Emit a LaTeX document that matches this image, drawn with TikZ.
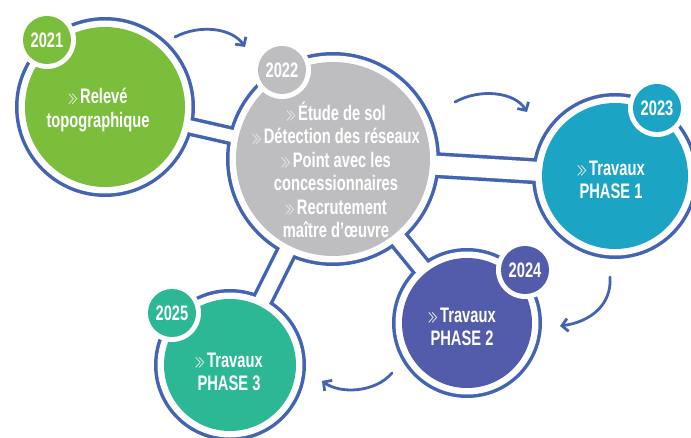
\documentclass[tikz,border=0pt]{standalone}
\usepackage{fontspec}
\setmainfont{Liberation Sans}[FakeStretch=0.7]
\usetikzlibrary{arrows.meta}
\definecolor{ringblue}{RGB}{66,100,178}
\definecolor{stagegreen}{RGB}{122,190,60}
\definecolor{stagegray}{RGB}{190,190,193}
\definecolor{stageteal}{RGB}{28,164,196}
\definecolor{stagepurple}{RGB}{82,92,170}
\definecolor{stagemint}{RGB}{44,184,148}

% small double chevron in front of each item
\newcommand{\chev}{\tikz[baseline=0pt, x=1pt, y=1pt]{
  \draw[white!80!gray, line width=0.8pt, line join=miter]
    (0,0) -- (4.5,5) -- (0,10) (3.5,0) -- (8,5) -- (3.5,10);}\hspace{3pt}}

\tikzset{
  stage/.style={circle, inner sep=0pt, minimum size=#1},
  yearbadge/.style={circle, inner sep=0pt, minimum size=48pt, text=white,
    font=\bfseries\fontsize{21}{22}\selectfont},
  stagetext/.style={text=white, align=center, inner sep=0pt,
    font=\bfseries\fontsize{21}{23.5}\selectfont},
  flow/.style={ringblue, line width=2.8pt, line cap=round,
    -{Straight Barb[length=6pt, width=13pt, line width=2.8pt]}},
}

\begin{document}
\begin{tikzpicture}[x=1pt, y=-1pt]
  \useasboundingbox (0,0) rectangle (691,438);
  % circle centres
  \coordinate (c21) at (105,107);
  \coordinate (c22) at (333,159);
  \coordinate (c23) at (615,176);
  \coordinate (c24) at (467,323);
  \coordinate (c25) at (230,365);

  % blue outlines (rings and bands)
  \begin{scope}[ringblue]
    \draw[line width=19pt] (c21) -- (c22);
    \draw[line width=26pt] (c22) -- (c23);
    \draw[line width=22pt] (c22) -- (c24);
    \draw[line width=22pt] (c22) -- (c25);
    \fill (c21) circle (90pt);
    \fill (c22) circle (107pt);
    \fill (c23) circle (83pt);
    \fill (c24) circle (75pt);
    \fill (c25) circle (76pt);
  \end{scope}
  % white gaps
  \begin{scope}[white]
    \draw[line width=12pt] (c21) -- (c22);
    \draw[line width=19pt] (c22) -- (c23);
    \draw[line width=15pt] (c22) -- (c24);
    \draw[line width=15pt] (c22) -- (c25);
    \fill (c21) circle (86.5pt);
    \fill (c22) circle (103.5pt);
    \fill (c23) circle (79.5pt);
    \fill (c24) circle (71.5pt);
    \fill (c25) circle (72.5pt);
  \end{scope}

  % stage discs
  \node[stage=160pt, fill=stagegreen] (s21) at (c21) {};
  \node[stage=194pt, fill=stagegray] (s22) at (c22) {};
  \node[stage=146pt, fill=stageteal] (s23) at (c23) {};
  \node[stage=130pt, fill=stagepurple] (s24) at (c24) {};
  \node[stage=132pt, fill=stagemint] (s25) at (c25) {};

  % year badges
  \node[stage=58pt, fill=white] (h21) at (47,40) {};
  \node[yearbadge, fill=stagegreen] (y21) at (h21) {2021};
  \node[stage=58pt, fill=white] (h22) at (282,70) {};
  \node[yearbadge, fill=stagegray] (y22) at (h22) {2022};
  \node[stage=58pt, fill=white] (h23) at (657,108) {};
  \node[yearbadge, fill=stageteal] (y23) at (h23) {2023};
  \node[stage=58pt, fill=white] (h24) at (525,270) {};
  \node[yearbadge, fill=stagepurple] (y24) at (h24) {2024};
  \node[stage=58pt, fill=white] (h25) at (172,313) {};
  \node[yearbadge, fill=stagemint] (y25) at (h25) {2025};

  % texts
  \node[stagetext] (t21) at (98,110) {\chev Relevé\\topographique};
  \node[stagetext] (t22) at (336,170) {\chev Étude de sol\\\chev Détection des réseaux\\
    \chev Point avec les\\concessionnaires\\\chev Recrutement\\maître d’œuvre};
  \node[stagetext] (t23) at (611,180) {\chev Travaux\\PHASE 1};
  \node[stagetext] (t24) at (462,327) {\chev Travaux\\PHASE 2};
  \node[stagetext] (t25) at (229,372) {\chev Travaux\\PHASE 3};

  % arrows
  \coordinate (a1s) at (175,37);  \coordinate (a1e) at (245,47);
  \coordinate (a2s) at (455,102); \coordinate (a2e) at (527,112);
  \coordinate (a3s) at (610,277); \coordinate (a3e) at (560,326);
  \coordinate (a4s) at (392,373); \coordinate (a4e) at (322,381);
  \draw[flow] (a1s) .. controls (200,24) and (232,28) .. (a1e);
  \draw[flow] (a2s) .. controls (480,88) and (515,92) .. (a2e);
  \draw[flow] (a3s) .. controls (612,305) and (590,322) .. (a3e);
  \draw[flow] (a4s) .. controls (375,393) and (340,394) .. (a4e);
\end{tikzpicture}
\end{document}
